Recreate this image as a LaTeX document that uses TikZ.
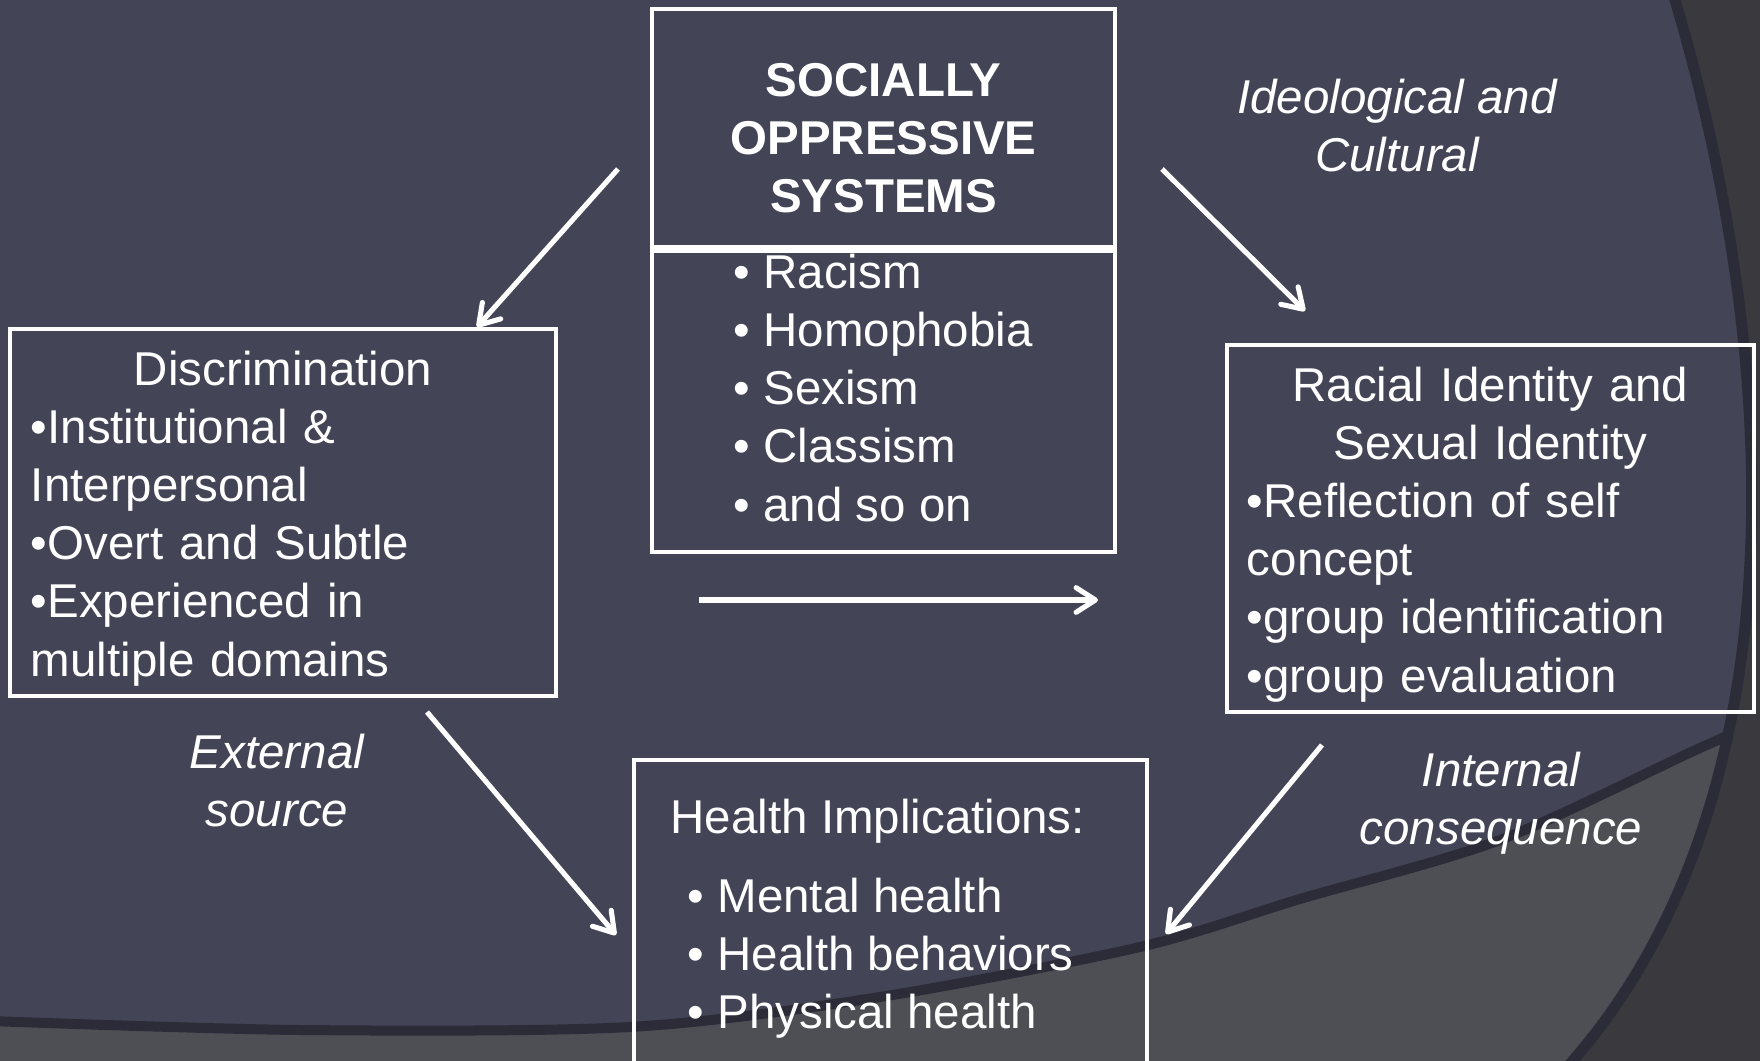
\documentclass[tikz,border=0pt]{standalone}
\usepackage{fontspec}
\setmainfont{Liberation Sans}
\usetikzlibrary{positioning,arrows.meta}
\definecolor{slate}{RGB}{67,68,86}
\definecolor{lowgray}{RGB}{78,79,85}
\definecolor{sidegray}{RGB}{58,58,62}
\definecolor{edgedark}{RGB}{43,44,56}

\begin{document}
\begin{tikzpicture}[x=0.01cm,y=-0.01cm,
	box/.style={draw=white,line width=1pt,inner sep=0pt},
	boxtxt/.style={box,text=white,font=\fontsize{13.5}{16.5}\selectfont,inner xsep=0.21cm},
	txt/.style={text=white,font=\fontsize{13.5}{16.5}\selectfont,align=left,inner sep=0pt},
	lbl/.style={text=white,font=\fontsize{13.5}{16.5}\selectfont\itshape,align=center,inner sep=0pt},
	arr/.style={draw=white,line width=1.45pt,-{Straight Barb[length=5.5pt,width=7pt,round]}}]
\def\bt{\textbullet\ }
\def\topstrut{\rule{0pt}{13.3pt}}

% backdrop
\useasboundingbox (0,0) rectangle (1760,1061);
\clip (0,0) rectangle (1760,1061);
\fill[slate] (0,0) rectangle (1760,1061);
\fill[lowgray] plot[smooth] coordinates {(-10,1021) (300,1030) (630,1027) (880,997) (1140,947) (1300,899) (1500,840) (1700,748) (1780,714)} -- (1780,1080) -- (-10,1080) -- cycle;
\draw[edgedark,line width=0.1cm] plot[smooth] coordinates {(-10,1021) (300,1030) (630,1027) (880,997) (1140,947) (1300,899) (1500,840) (1700,748) (1780,714)};
\fill[sidegray] (1672,-10) .. controls (1775,330) and (1815,800) .. (1560,1075) -- (1780,1075) -- (1780,-10) -- cycle;
\draw[edgedark,line width=0.11cm] (1672,-10) .. controls (1775,330) and (1815,800) .. (1560,1075);

% boxes
\node[box,minimum width=4.63cm,minimum height=2.38cm] (title) at (883.5,128) {};
\node[txt,align=center,font=\fontsize{13.5}{16.5}\selectfont\bfseries] (titletxt) at (883.5,138) {SOCIALLY\\OPPRESSIVE\\SYSTEMS};
\node[box,minimum width=4.63cm,minimum height=3.01cm] (sys) at (883.5,401.5) {};
\node[txt,anchor=west] (systxt) at (733,388) {\bt Racism\\\bt Homophobia\\\bt Sexism\\\bt Classism\\\bt and so on};

\node[boxtxt,text width=5.04cm,minimum height=3.67cm] (disc) at (283,512.5)
	{{\centering\topstrut Discrimination\par}\raggedright\textbullet Institutional \&\\Interpersonal\\\textbullet Overt and Subtle\\\textbullet Experienced in\\multiple domains};
\node[boxtxt,text width=4.87cm,inner xsep=0.2cm,minimum height=3.67cm] (ident) at (1490.5,528.5)
	{{\centering\topstrut Racial Identity and\\Sexual Identity\par}\raggedright\textbullet Reflection of self\\concept\\\textbullet group identification\\\textbullet group evaluation};

\node[box,minimum width=5.13cm,minimum height=3.4cm] (health) at (890.5,930) {};
\node[txt,anchor=west] (healthtxt) at (670,918.5) {Health Implications:\\[6pt]\hspace*{0.17cm}\bt Mental health\\\hspace*{0.17cm}\bt Health behaviors\\\hspace*{0.17cm}\bt Physical health};

% labels
\node[lbl] (ideo) at (1397,126) {Ideological and\\Cultural};
\node[lbl] (ext) at (277,781) {External\\source};
\node[lbl] (intl) at (1501,803) {Internal\\consequence};

% arrows
\coordinate(a1) at (618,169);
\coordinate(b1) at (477,327);
\coordinate(a2) at (1162,169);
\coordinate(b2) at (1305,311);
\coordinate(a3) at (699,600);
\coordinate(b3) at (1098,600);
\coordinate(a4) at (427,712);
\coordinate(b4) at (616,935);
\coordinate(a5) at (1322,745);
\coordinate(b5) at (1166,934);

\foreach \x in {1,...,5}{
	\draw[arr](a\x)--(b\x);
}

\end{tikzpicture}
\end{document}
